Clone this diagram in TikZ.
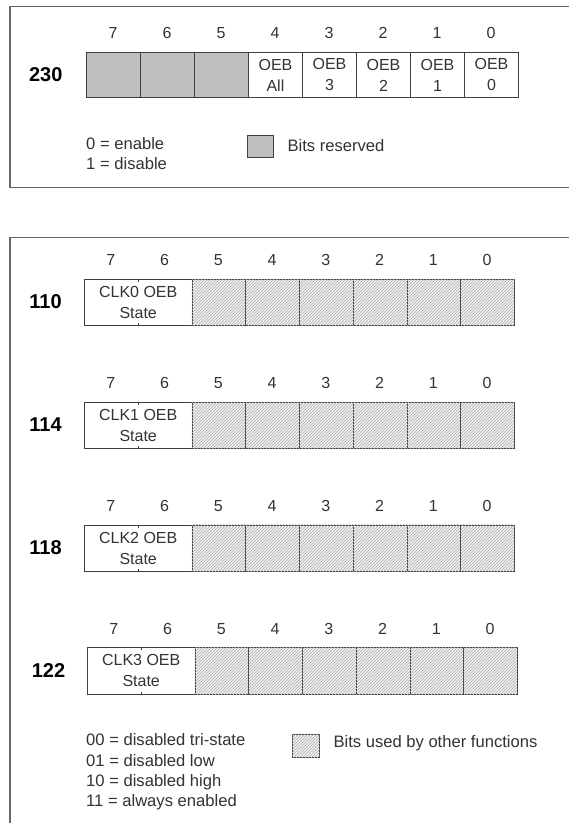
\documentclass[tikz,border=0pt]{standalone}
\usepackage{fontspec}
\setmainfont{Liberation Sans}
\usetikzlibrary{patterns}
\begin{document}
\begin{tikzpicture}[x=1pt,y=-1pt,
  frame/.style={draw=black!60, line width=1.3pt},
  cellbase/.style={draw=black!75, line width=0.9pt, inner sep=0pt, anchor=north west, align=center,
    font=\fontsize{16}{21}\selectfont, text=black!80},
  cell/.style={cellbase, minimum width=54pt, minimum height=45.6pt},
  bcell/.style={cellbase, minimum width=53.75pt, minimum height=46.3pt},
  grayfill/.style={fill=black!25},
  hatchfill/.style={fill=black!6, postaction={pattern=north east lines, pattern color=black!32}},
  bitnum/.style={font=\fontsize{16}{18}\selectfont, text=black!80, inner sep=0pt, anchor=base},
  reglabel/.style={font=\bfseries\fontsize{20}{24}\selectfont, inner sep=0pt},
  legend/.style={anchor=west, font=\fontsize{16.6}{20}\selectfont, text=black!80, inner sep=0pt},
  tick/.style={draw=black!75, line width=0.9pt}]
\useasboundingbox (0,0) rectangle (569,823);
\fill[white] (0,0) rectangle (569,823);
% outer frames (cut off at the right / bottom)
\draw[frame] (569,6.7) -- (10,6.7) -- (10,187.3) -- (569,187.3);
\draw[frame] (569,237.3) -- (10,237.3) -- (10,823);

% ---------------- register 230 ----------------
\node[reglabel] (l230) at (45.7,74.5) {230};
\foreach \b in {7,6,...,0} {
  \node[bitnum] (n230-\b) at ({86+(7-\b)*54+27},38.4) {\b};
}
\foreach \b in {7,6,5} {
  \node[cell, grayfill] (c230-\b) at ({86+(7-\b)*54},51.7) {};
}
\node[cell] (c230-4) at (248,51.7) {OEB\\All};
\node[cell] (c230-3) at (302,51.7) {OEB\\3};
\node[cell] (c230-2) at (356,51.7) {OEB\\2};
\node[cell] (c230-1) at (410,51.7) {OEB\\1};
\node[cell] (c230-0) at (464,51.7) {OEB\\0};

\node[legend] (en) at (86,144) {0 = enable};
\node[legend] (dis) at (86,164) {1 = disable};
\node[draw=black!75, line width=1pt, grayfill, minimum width=26pt, minimum height=21.7pt, inner sep=0pt, anchor=north west] (rsvkey) at (247.3,135) {};
\node[legend] (rsvtxt) at (287.3,145.7) {Bits reserved};

% ---------------- registers 110 .. 122 ----------------
\foreach \reg/\k/\t/\l in {110/0/278.7/84, 114/1/401.6/84, 118/2/524.5/84, 122/3/647.3/87} {
  \node[reglabel] (l\reg) at (\l-38.5,\t+23.2) {\reg};
  \foreach \b in {7,6,...,0} {
    \node[bitnum] (n\reg-\b) at ({\l+(7-\b)*53.75+26.9},\t-12.8) {\b};
  }
  \node[bcell, minimum width=107.5pt] (c\reg-s) at (\l,\t) {CLK\k{} OEB\\State};
  \foreach \b in {5,4,...,0} {
    \node[bcell, hatchfill] (c\reg-\b) at ({\l+(7-\b)*53.75},\t) {};
  }
  \draw[tick] (c\reg-s.north) -- ++(0,3);
  \draw[tick] (c\reg-s.south) -- ++(0,-3);
}

\node[legend] (k00) at (86,740) {00 = disabled tri-state};
\node[legend] (k01) at (86,760.7) {01 = disabled low};
\node[legend] (k10) at (86,781.7) {10 = disabled high};
\node[legend] (k11) at (86,802.3) {11 = always enabled};
\node[draw=black!75, line width=1pt, hatchfill, minimum width=27.3pt, minimum height=22.4pt, inner sep=0pt, anchor=north west] (hkey) at (291.7,734.3) {};
\node[legend] (htxt) at (333.3,743.3) {Bits used by other functions};
\end{tikzpicture}
\end{document}
